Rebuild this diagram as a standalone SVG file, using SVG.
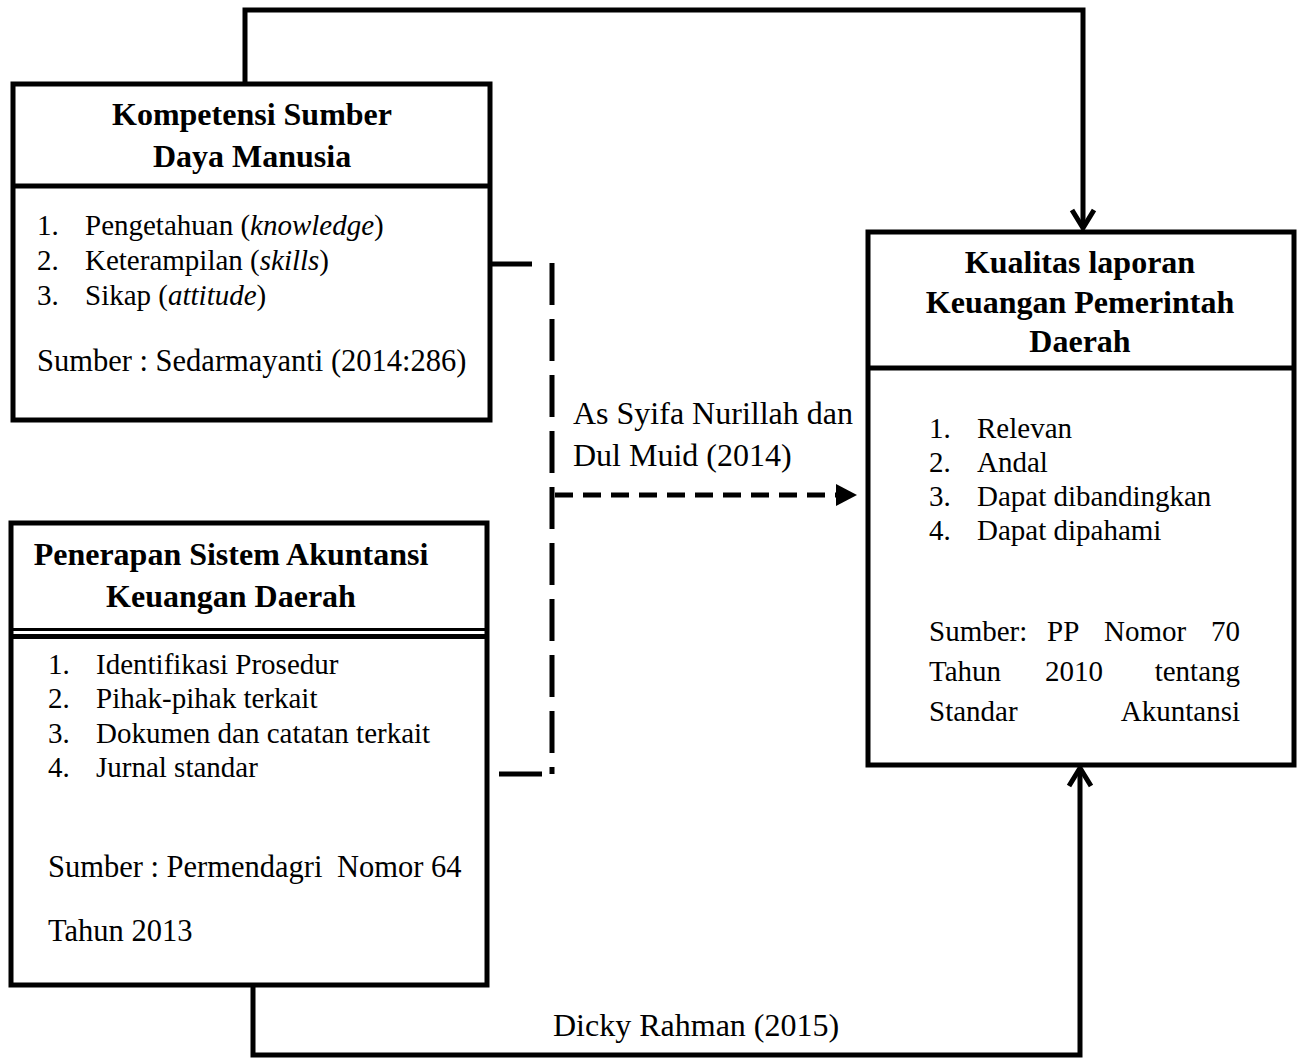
<svg xmlns="http://www.w3.org/2000/svg" width="1300" height="1059" viewBox="0 0 1300 1059">
<style>
  text { font-family: "Liberation Serif", "Times New Roman", serif; fill: #000; }
  .t { font-size: 32px; font-weight: bold; text-anchor: middle; }
  .r { font-size: 29px; }
  .s { font-size: 30.5px; }
  .lb { font-size: 32px; }
  .box { fill: #fff; stroke: #000; stroke-width: 5; }
  .ln { fill: none; stroke: #000; stroke-width: 5; }
  .solid { fill: none; stroke: #000; stroke-width: 5; }
  .dashv { fill: none; stroke: #000; stroke-width: 5; stroke-dasharray: 42 14; }
  .dashh { fill: none; stroke: #000; stroke-width: 5; stroke-dasharray: 18 10; }
</style>

<g id="connectors">
  <path class="solid" d="M245,82 V10 H1083 V228"/>
  <path class="solid" d="M253,985 V1055 H1080 V770"/>
  <path class="solid" d="M490,264 H532"/>
  <path class="solid" d="M499,774 H542"/>
  <path class="dashv" d="M552,263 V774"/>
  <path class="dashh" d="M555,495 H838"/>
  <polygon points="836,484 857,495 836,506" fill="#000"/>
  <polyline points="1072,210 1083,228 1094,210" fill="none" stroke="#000" stroke-width="5"/>
  <polyline points="1069,786 1080,768 1091,786" fill="none" stroke="#000" stroke-width="5"/>
  <text class="lb" x="573" y="424">As Syifa Nurillah dan</text>
  <text class="lb" x="573" y="466">Dul Muid (2014)</text>
  <text class="lb" x="553" y="1036">Dicky Rahman (2015)</text>
</g>

<g id="node-kompetensi">
  <rect class="box" x="13" y="84" width="477" height="336"/>
  <line class="ln" x1="13" y1="186" x2="490" y2="186"/>
  <text class="t" x="252" y="125">Kompetensi Sumber</text>
  <text class="t" x="252" y="167">Daya Manusia</text>
  <text class="r" x="37" y="235">1.</text><text class="r" x="85" y="235">Pengetahuan (<tspan font-style="italic">knowledge</tspan>)</text>
  <text class="r" x="37" y="270">2.</text><text class="r" x="85" y="270">Keterampilan (<tspan font-style="italic">skills</tspan>)</text>
  <text class="r" x="37" y="305">3.</text><text class="r" x="85" y="305">Sikap (<tspan font-style="italic">attitude</tspan>)</text>
  <text class="s" x="37" y="371">Sumber : Sedarmayanti (2014:286)</text>
</g>

<g id="node-penerapan">
  <rect class="box" x="11" y="523" width="476" height="462"/>
  <line x1="11" y1="629.5" x2="487" y2="629.5" stroke="#000" stroke-width="3"/>
  <line x1="11" y1="636.5" x2="487" y2="636.5" stroke="#000" stroke-width="5"/>
  <text class="t" x="231" y="565">Penerapan Sistem Akuntansi</text>
  <text class="t" x="231" y="607">Keuangan Daerah</text>
  <text class="r" x="48" y="674">1.</text><text class="r" x="96" y="674">Identifikasi Prosedur</text>
  <text class="r" x="48" y="708">2.</text><text class="r" x="96" y="708">Pihak-pihak terkait</text>
  <text class="r" x="48" y="743">3.</text><text class="r" x="96" y="743">Dokumen dan catatan terkait</text>
  <text class="r" x="48" y="777">4.</text><text class="r" x="96" y="777">Jurnal standar</text>
  <text class="s" y="877"><tspan x="48">Sumber : Permendagri</tspan><tspan x="337">Nomor 64</tspan></text>
  <text class="s" x="48" y="941">Tahun 2013</text>
</g>

<g id="node-kualitas">
  <rect class="box" x="868" y="232" width="426" height="533"/>
  <line class="ln" x1="868" y1="368" x2="1294" y2="368"/>
  <text class="t" x="1080" y="273">Kualitas laporan</text>
  <text class="t" x="1080" y="313">Keuangan Pemerintah</text>
  <text class="t" x="1080" y="352">Daerah</text>
  <text class="r" x="929" y="438">1.</text><text class="r" x="977" y="438">Relevan</text>
  <text class="r" x="929" y="472">2.</text><text class="r" x="977" y="472">Andal</text>
  <text class="r" x="929" y="506">3.</text><text class="r" x="977" y="506">Dapat dibandingkan</text>
  <text class="r" x="929" y="540">4.</text><text class="r" x="977" y="540">Dapat dipahami</text>
  <text class="r" y="641"><tspan x="929">Sumber:</tspan><tspan x="1047">PP</tspan><tspan x="1104">Nomor</tspan><tspan x="1240" text-anchor="end">70</tspan></text>
  <text class="r" y="681"><tspan x="929">Tahun</tspan><tspan x="1045">2010</tspan><tspan x="1240" text-anchor="end">tentang</tspan></text>
  <text class="r" y="721"><tspan x="929">Standar</tspan><tspan x="1240" text-anchor="end">Akuntansi</tspan></text>
</g>
</svg>
